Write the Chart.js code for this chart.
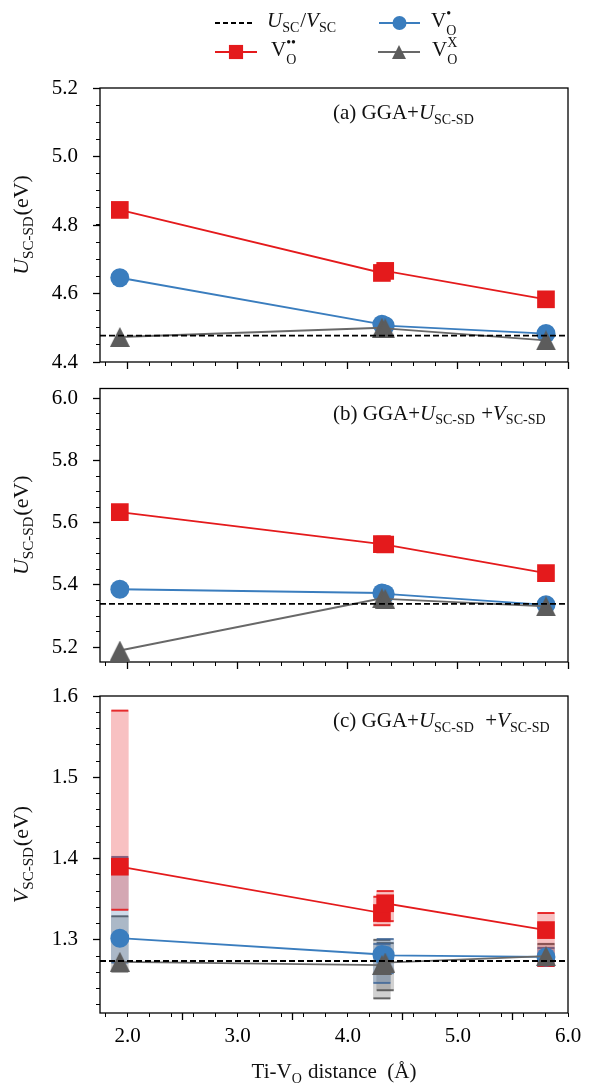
<!DOCTYPE html>
<html>
<head>
<meta charset="utf-8">
<title>Ti-VO distance</title>
<script src="https://cdn.jsdelivr.net/npm/chart.js@4.4.1/dist/chart.umd.min.js"></script>
<style>
  html, body { margin: 0; padding: 0; background: #fff; }
  #wrap { position: relative; width: 603px; height: 1084px; overflow: hidden; }
  #wrap canvas { position: absolute; left: 0; }
</style>
</head>
<body>
<div id="wrap">
  <canvas id="panelA" width="603" height="376" style="top:0"></canvas>
  <canvas id="panelB" width="603" height="300" style="top:376px"></canvas>
  <canvas id="panelC" width="603" height="408" style="top:676px"></canvas>
</div>
<script>
const SERIF = '"Liberation Serif", "DejaVu Serif", serif';
const RED = '#e41a1c';
const BLUE = '#3a7dbe';
const GRAY = '#5c5c5c';
const GRAY_LINE = '#686868';

// shared x axis (Ti-VO distance, Å)
const xLimits = [1.75, 6.0];
const xTicks = [2.0, 3.0, 4.0, 5.0, 6.0];
const distance = [1.93, 4.31, 4.34, 5.80];

// (a) GGA+U_SC-SD : U_SC-SD (eV)
const redA = [4.844, 4.660, 4.666, 4.583];
const blueA = [4.646, 4.510, 4.506, 4.483];
const grayA = [4.473, 4.500, 4.498, 4.463];
const refA = 4.477;
const yLimitsA = [4.4, 5.2];
const yTicksA = [4.4, 4.6, 4.8, 5.0, 5.2];

// (b) GGA+U_SC-SD+V_SC-SD : U_SC-SD (eV)
const redB = [5.634, 5.531, 5.530, 5.438];
const blueB = [5.386, 5.374, 5.371, 5.336];
const grayB = [5.189, 5.357, 5.355, 5.331];
const refB = 5.339;
const yLimitsB = [5.152, 6.032];
const yTicksB = [5.2, 5.4, 5.6, 5.8, 6.0];

// (c) GGA+U_SC-SD+V_SC-SD : V_SC-SD (eV), with spread
const redC = [1.390, 1.333, 1.345, 1.312];
const redLoC = [1.337, 1.318, 1.323, 1.268];
const redHiC = [1.582, 1.353, 1.360, 1.333];
const blueC = [1.302, 1.282, 1.281, 1.279];
const blueLoC = [1.272, 1.247, 1.259, 1.268];
const blueHiC = [1.402, 1.295, 1.301, 1.290];
const grayC = [1.273, 1.269, 1.272, 1.280];
const grayLoC = [1.261, 1.228, 1.238, 1.268];
const grayHiC = [1.329, 1.300, 1.296, 1.295];
const refC = 1.274;
const yLimitsC = [1.21, 1.6];
const yTicksC = [1.3, 1.4, 1.5, 1.6];

Chart.defaults.font.family = SERIF;
Chart.defaults.color = '#000';

function font(size, italic) {
  return (italic ? 'italic ' : '') + size + 'px ' + SERIF;
}

function partWidth(ctx, p, size) {
  if (p.t !== undefined) {
    ctx.font = font(size, p.i);
    return ctx.measureText(p.t).width;
  }
  ctx.font = font(Math.round(size * 0.68));
  const a = p.sub ? ctx.measureText(p.sub).width : 0;
  const b = p.sup ? ctx.measureText(p.sup).width : 0;
  return Math.max(a, b) + 1;
}

// text runs with italic / subscript / superscript pieces
function drawRich(ctx, parts, x, y, size, align) {
  ctx.save();
  ctx.fillStyle = '#111';
  ctx.textAlign = 'left';
  ctx.textBaseline = 'alphabetic';
  let total = 0;
  for (const p of parts) total += partWidth(ctx, p, size);
  let cx = align === 'center' ? x - total / 2 : x;
  for (const p of parts) {
    const w = partWidth(ctx, p, size);
    if (p.t !== undefined) {
      ctx.font = font(size, p.i);
      ctx.fillText(p.t, cx, y);
    } else {
      ctx.font = font(Math.round(size * 0.68));
      if (p.sub) ctx.fillText(p.sub, cx, y + size * (p.sup ? 0.38 : 0.22));
      if (p.sup) ctx.fillText(p.sup, cx, y - size * 0.42);
    }
    cx += w;
  }
  ctx.restore();
}

function triangleMark(size, color) {
  const c = document.createElement('canvas');
  c.width = size;
  c.height = size;
  const g = c.getContext('2d');
  g.fillStyle = color;
  g.beginPath();
  g.moveTo(size / 2, 0);
  g.lineTo(size, size);
  g.lineTo(0, size);
  g.closePath();
  g.fill();
  return c;
}

const TRI = triangleMark(20, GRAY);
const TRI_SMALL = triangleMark(14, GRAY);

function drawLegend(ctx) {
  const rows = [
    { x0: 215, x1: 252, y: 23, line: '#000', dash: [5, 3], tx: 267,
      label: [{ t: 'U', i: true }, { sub: 'SC' }, { t: '/' }, { t: 'V', i: true }, { sub: 'SC' }] },
    { x0: 379, x1: 420, y: 23, line: BLUE, fill: BLUE, marker: { pointStyle: 'circle', radius: 7 }, tx: 431,
      label: [{ t: 'V' }, { sub: 'O', sup: '\u2022' }] },
    { x0: 215, x1: 257, y: 52, line: RED, fill: RED, marker: { pointStyle: 'rect', radius: 10 }, tx: 271,
      label: [{ t: 'V' }, { sub: 'O', sup: '\u2022\u2022' }] },
    { x0: 378, x1: 420, y: 52, line: GRAY_LINE, fill: GRAY, marker: { pointStyle: TRI_SMALL, radius: 7 }, tx: 432,
      label: [{ t: 'V' }, { sub: 'O', sup: 'X' }] }
  ];
  for (const r of rows) {
    ctx.save();
    ctx.strokeStyle = r.line;
    ctx.lineWidth = 2;
    ctx.setLineDash(r.dash || []);
    ctx.beginPath();
    ctx.moveTo(r.x0, r.y);
    ctx.lineTo(r.x1, r.y);
    ctx.stroke();
    ctx.setLineDash([]);
    if (r.marker) {
      ctx.fillStyle = r.fill;
      ctx.strokeStyle = r.fill;
      Chart.helpers.drawPoint(ctx, { ...r.marker, rotation: 0, borderWidth: 0 }, (r.x0 + r.x1) / 2, r.y);
    }
    ctx.restore();
    drawRich(ctx, r.label, r.tx, r.y + 4, 21);
  }
}

function decorations(o) {
  return {
    id: 'decor',
    afterDraw(chart) {
      const { ctx, chartArea: a } = chart;
      ctx.save();
      ctx.strokeStyle = '#000';
      ctx.lineWidth = 1.3;
      ctx.strokeRect(a.left, a.top, a.right - a.left, a.bottom - a.top);
      ctx.restore();

      drawRich(ctx, o.label, a.left + 233, a.top + 31, 21);

      ctx.save();
      ctx.translate(28, (a.top + a.bottom) / 2);
      ctx.rotate(-Math.PI / 2);
      drawRich(ctx, o.yTitle, 0, 0, 22, 'center');
      ctx.restore();

      if (o.xTitle) drawRich(ctx, o.xTitle, (a.left + a.right) / 2, chart.height - 6, 21, 'center');
      if (o.legend) drawLegend(ctx);
    }
  };
}

function series(ys, color, lineColor, style, radius, order) {
  return {
    type: 'line',
    data: distance.map((x, i) => ({ x, y: ys[i] })),
    borderColor: lineColor,
    borderWidth: 1.8,
    tension: 0,
    pointStyle: style,
    pointRadius: radius,
    pointBackgroundColor: color,
    pointBorderColor: color,
    pointBorderWidth: 0,
    order
  };
}

function spread(lo, hi, fill, cap, order) {
  return [
    {
      type: 'bar',
      data: distance.map((x, i) => ({ x, y: [lo[i], hi[i]] })),
      backgroundColor: fill,
      borderWidth: 0,
      barThickness: 17,
      grouped: false,
      order: order + 1
    },
    {
      type: 'line',
      showLine: false,
      data: distance.flatMap((x, i) => [{ x, y: lo[i] }, { x, y: hi[i] }]),
      pointStyle: 'line',
      pointRadius: 8.5,
      pointBorderWidth: 2,
      pointBorderColor: cap,
      order
    }
  ];
}

function tickFont() {
  return { family: SERIF, size: 21 };
}

function panel(id, o) {
  const datasets = [
    {
      type: 'line',
      data: [{ x: xLimits[0], y: o.ref }, { x: xLimits[1], y: o.ref }],
      borderColor: '#000',
      borderWidth: 1.8,
      borderDash: [6, 3],
      pointRadius: 0,
      order: 0
    },
    series(o.gray, GRAY, GRAY_LINE, TRI, 10, 1),
    series(o.blue, BLUE, BLUE, 'circle', 9.5, 2),
    series(o.red, RED, RED, 'rect', 12.5, 3)
  ];
  if (o.spread) {
    const s = o.spread;
    datasets.push(...spread(s.redLo, s.redHi, 'rgba(228,26,28,0.27)', 'rgba(228,26,28,0.9)', 10));
    datasets.push(...spread(s.blueLo, s.blueHi, 'rgba(58,110,170,0.25)', 'rgba(60,100,150,0.8)', 12));
    datasets.push(...spread(s.grayLo, s.grayHi, 'rgba(90,90,90,0.28)', 'rgba(70,70,70,0.8)', 14));
  }

  const noPad = s => { s.paddingTop = 0; s.paddingBottom = 0; s.paddingLeft = 0; s.paddingRight = 0; };

  new Chart(document.getElementById(id), {
    type: 'line',
    data: { datasets },
    options: {
      responsive: false,
      animation: false,
      events: [],
      layout: { padding: { top: o.top, right: 35, bottom: 0, left: 0 } },
      plugins: { legend: { display: false }, tooltip: { enabled: false } },
      scales: {
        x: {
          type: 'linear', position: 'bottom', weight: 1,
          min: xLimits[0], max: xLimits[1], offset: false,
          afterBuildTicks: s => { s.ticks = xTicks.map(v => ({ value: v })); },
          afterFit: s => { s.height = o.xHeight; noPad(s); },
          ticks: { display: !!o.xTitle, autoSkip: false, maxRotation: 0, padding: 4, color: '#000',
                   font: tickFont(), callback: v => v.toFixed(1) },
          grid: { drawOnChartArea: false, tickLength: 7, tickWidth: 1.3, tickColor: '#000' },
          border: { display: false }
        },
        xMinor: {
          type: 'linear', position: 'bottom', weight: 0,
          min: xLimits[0], max: xLimits[1], offset: false,
          afterFit: s => { s.height = 0; noPad(s); },
          ticks: { display: false, stepSize: 0.2, includeBounds: false },
          grid: { drawOnChartArea: false, tickLength: 4, tickWidth: 1, tickColor: '#000' },
          border: { display: false }
        },
        y: {
          type: 'linear', position: 'left', weight: 1,
          min: o.yLimits[0], max: o.yLimits[1],
          afterBuildTicks: s => { s.ticks = o.yTicks.map(v => ({ value: v })); },
          afterFit: s => { s.width = 100; noPad(s); },
          ticks: { autoSkip: false, padding: 15, color: '#000', font: tickFont(), callback: v => v.toFixed(1) },
          grid: { drawOnChartArea: false, tickLength: 7, tickWidth: 1.3, tickColor: '#000' },
          border: { display: false }
        },
        yMinor: {
          type: 'linear', position: 'left', weight: 0,
          min: o.yLimits[0], max: o.yLimits[1],
          afterFit: s => { s.width = 0; noPad(s); },
          ticks: { display: false, stepSize: o.minorStep, includeBounds: false },
          grid: { drawOnChartArea: false, tickLength: 4, tickWidth: 1, tickColor: '#000' },
          border: { display: false }
        }
      }
    },
    plugins: [decorations(o)]
  });
}

const uTitle = [{ t: 'U', i: true }, { sub: 'SC-SD' }, { t: '(eV)' }];
const vTitle = [{ t: 'V', i: true }, { sub: 'SC-SD' }, { t: '(eV)' }];

panel('panelA', {
  top: 88, xHeight: 14, legend: true,
  red: redA, blue: blueA, gray: grayA, ref: refA,
  yLimits: yLimitsA, yTicks: yTicksA, minorStep: 0.05,
  yTitle: uTitle,
  label: [{ t: '(a) GGA+' }, { t: 'U', i: true }, { sub: 'SC-SD' }]
});

panel('panelB', {
  top: 12, xHeight: 14,
  red: redB, blue: blueB, gray: grayB, ref: refB,
  yLimits: yLimitsB, yTicks: yTicksB, minorStep: 0.05,
  yTitle: uTitle,
  label: [{ t: '(b) GGA+' }, { t: 'U', i: true }, { sub: 'SC-SD' }, { t: ' +' }, { t: 'V', i: true }, { sub: 'SC-SD' }]
});

panel('panelC', {
  top: 20, xHeight: 71,
  red: redC, blue: blueC, gray: grayC, ref: refC,
  spread: { redLo: redLoC, redHi: redHiC, blueLo: blueLoC, blueHi: blueHiC, grayLo: grayLoC, grayHi: grayHiC },
  yLimits: yLimitsC, yTicks: yTicksC, minorStep: 0.02,
  yTitle: vTitle,
  label: [{ t: '(c) GGA+' }, { t: 'U', i: true }, { sub: 'SC-SD' }, { t: '  +' }, { t: 'V', i: true }, { sub: 'SC-SD' }],
  xTitle: [{ t: 'Ti-V' }, { sub: 'O' }, { t: ' distance  (\u00c5)' }]
});
</script>
</body>
</html>
